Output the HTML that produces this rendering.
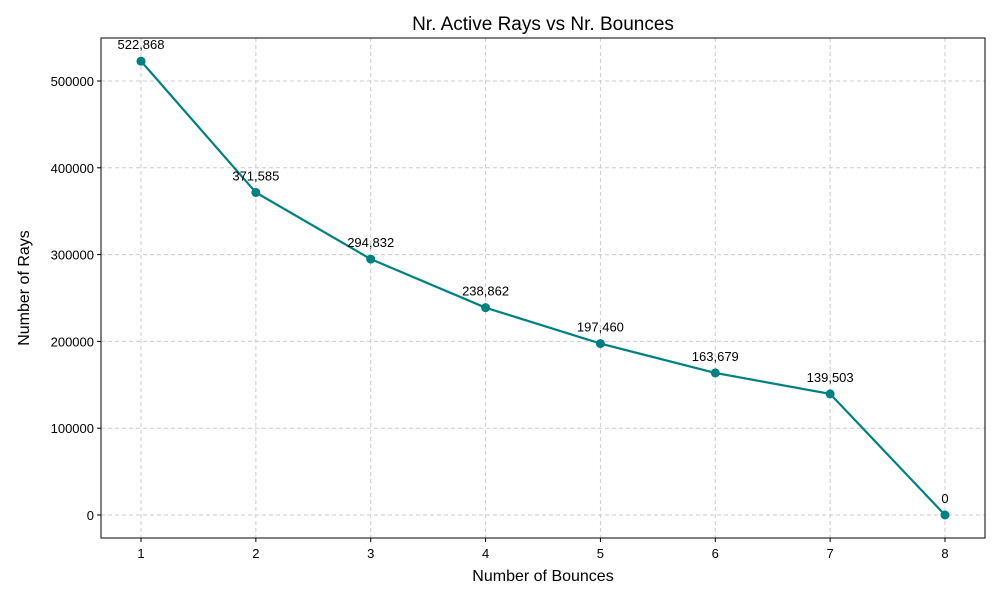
<!DOCTYPE html>
<html><head><meta charset="utf-8"><style>
body{margin:0;background:#fff;}
svg{display:block;font-family:"Liberation Sans","DejaVu Sans",sans-serif;}
</style></head><body>
<svg id="chart" width="1000" height="600">
<rect x="0" y="0" width="1000" height="600" fill="#fff"/>
<g id="grid"></g>
<g id="ticks"></g>
<g id="series"></g>
<rect x="101" y="38" width="884" height="500" fill="none" stroke="#000" stroke-width="1"/>
<text x="543" y="30" text-anchor="middle" font-size="19">Nr. Active Rays vs Nr. Bounces</text>
<text x="543" y="581" text-anchor="middle" font-size="16">Number of Bounces</text>
<text x="29" y="288" text-anchor="middle" font-size="16" transform="rotate(-90 29 288)">Number of Rays</text>
</svg>
<script>
const categories=[1,2,3,4,5,6,7,8];
const values=[522868,371585,294832,238862,197460,163679,139503,0];
const yTicks=[0,100000,200000,300000,400000,500000];
const xTicks=[1,2,3,4,5,6,7,8];
const NS="http://www.w3.org/2000/svg";
function xs(v){return 141+(v-1)*(945-141)/7;}
function ys(v){return 515-v*(515-81)/500000;}
function mk(tag,attrs,parent,text){const e=document.createElementNS(NS,tag);for(const k in attrs)e.setAttribute(k,attrs[k]);if(text!==undefined)e.textContent=text;parent.appendChild(e);return e;}
const grid=document.getElementById('grid'),ticks=document.getElementById('ticks'),series=document.getElementById('series');
xTicks.forEach(t=>{const x=xs(t);
 const g=mk('line',{x1:x,x2:x,y1:38,y2:538,stroke:'#cccccc','stroke-dasharray':'4,3'},grid);
 
 
 mk('line',{x1:x,x2:x,y1:538,y2:542,stroke:'#000'},ticks);
 const l=mk('text',{x:x,y:558,'text-anchor':'middle','font-size':'13'},ticks,String(t));
 
 
});
yTicks.forEach(t=>{const y=ys(t);
 const g=mk('line',{x1:101,x2:985,y1:y,y2:y,stroke:'#cccccc','stroke-dasharray':'4,3'},grid);
 
 
 mk('line',{x1:97,x2:101,y1:y,y2:y,stroke:'#000'},ticks);
 const l=mk('text',{x:94,y:y+5,'text-anchor':'end','font-size':'13'},ticks,String(t));
 
 
});
const pts=categories.map((c,i)=>xs(c)+','+ys(values[i])).join(' ');
const line=mk('polyline',{points:pts,fill:'none',stroke:'#008080','stroke-width':'2.2'},series);


categories.forEach((c,i)=>{
 const p=mk('circle',{cx:xs(c),cy:ys(values[i]),r:4.5,fill:'#008080'},series);
 
 
 const t=mk('text',{x:xs(c),y:ys(values[i])-12,'text-anchor':'middle','font-size':'13'},series,values[i].toLocaleString('en-US'));
 
 
});
</script>
</body></html>
